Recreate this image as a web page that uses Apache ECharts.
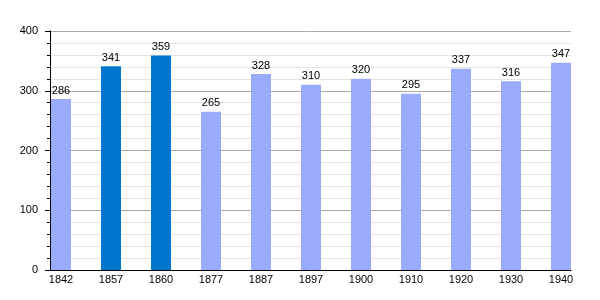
<!DOCTYPE html>
<html><head><meta charset="utf-8">
<script src="https://cdn.jsdelivr.net/npm/echarts@6/dist/echarts.min.js"></script>
<style>html,body{margin:0;padding:0;background:#fff}#c{width:600px;height:300px}</style>
</head><body><div id="c"></div>
<script>
const categories = ['1842','1857','1860','1877','1887','1897','1900','1910','1920','1930','1940'];
const values = [286, 341, 359, 265, 328, 310, 320, 295, 337, 316, 347];
const highlighted = ['1857','1860'];
const yTicks = [0, 100, 200, 300, 400];

const LIGHT = '#9aabfb';
const DARK = '#0077cc';
const font = 'Liberation Sans, Arial, sans-serif';

const chart = echarts.init(document.getElementById('c'), null, {renderer: 'canvas'});
chart.setOption({
  animation: false,
  grid: [
    {left: 50, right: 29, top: 31, bottom: 30},
    {left: 36, right: 14, top: 31, bottom: 30}
  ],
  xAxis: [
    {gridIndex: 0, type: 'category', data: categories,
     axisLine: {lineStyle: {color: '#000', width: 1}}, axisTick: {show: false},
     axisLabel: {show: false}, splitLine: {show: false}},
    {gridIndex: 1, type: 'category', data: categories,
     axisLine: {show: false}, axisTick: {show: false},
     axisLabel: {color: '#000', fontSize: 11, fontFamily: font, margin: 4}}
  ],
  yAxis: [
    {gridIndex: 0, type: 'value', min: yTicks[0], max: yTicks[yTicks.length-1], interval: 100,
     axisLine: {show: true, lineStyle: {color: '#000', width: 1}},
     axisTick: {show: true, length: 5, lineStyle: {color: '#000'}},
     minorTick: {show: true, splitNumber: 5, length: 3, lineStyle: {color: '#000'}},
     splitLine: {show: true, lineStyle: {color: '#a8a8a8', width: 1}},
     minorSplitLine: {show: true, lineStyle: {color: '#e4e4e4', width: 1}},
     axisLabel: {color: '#000', fontSize: 11, fontFamily: font, margin: 12}},
    {gridIndex: 1, type: 'value', min: yTicks[0], max: yTicks[yTicks.length-1], show: false,
     splitLine: {show: false}}
  ],
  series: [{
    type: 'bar', xAxisIndex: 1, yAxisIndex: 1, barWidth: 20,
    data: values.map((v, i) => ({value: v, itemStyle: {color: highlighted.includes(categories[i]) ? DARK : LIGHT}})),
    label: {show: true, position: 'top', distance: 3, color: '#000', fontSize: 11, fontFamily: font}
  }]
});
</script></body></html>
